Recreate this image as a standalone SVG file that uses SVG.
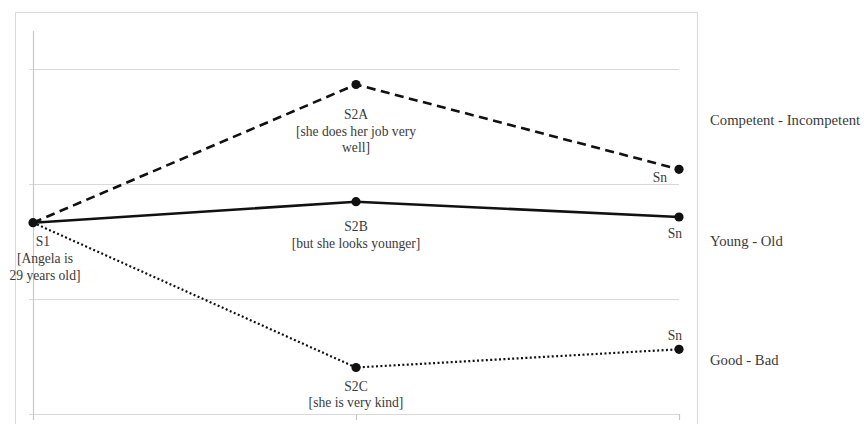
<svg xmlns="http://www.w3.org/2000/svg" width="864" height="424" viewBox="0 0 864 424">
<style>
.frame{fill:none;stroke:#d9d9d9;stroke-width:1}
.grid{stroke:#d9d9d9;stroke-width:1.2;fill:none}
.axis{stroke:#c8c8c8;stroke-width:1.2;fill:none}
.lbl{font-size:13.6px;fill:#3a3a3a;text-anchor:middle}
.sn{font-size:13.6px;fill:#3a3a3a;text-anchor:end}
.leg{font-size:14.7px;fill:#3a3a3a}
.pt{fill:#111}
.ln{fill:none;stroke:#111;stroke-linejoin:round}
.dash{stroke-width:2.6;stroke-dasharray:9 5.5}
.solid{stroke-width:2.6}
.dotted{stroke-width:2.2;stroke-dasharray:2 2.4}
</style>
<rect width="864" height="424" fill="#fff"/>
<g id="chart-frame">
<path class="frame" d="M15.5 430V12.5H697.5V430"/>
<path class="grid" d="M29 69.5H679M29 184.5H679M29 299.5H679M29 414.5H679"/>
<path class="axis" d="M33.5 31V420M356.5 414V420M679.5 414V420"/>
</g>
<g id="connectors">
<path class="ln dash" d="M33 222.7L356 84.5L679 169.3"/>
<path class="ln solid" d="M33 222.7L356 201.7L679 217"/>
<path class="ln dotted" d="M33 222.7L356 367.5L679 349.3"/>
</g>
<g font-family="Liberation Serif, Times New Roman, serif">
<g id="S1">
<circle class="pt" cx="33" cy="222.7" r="4.6"/>
<text class="lbl" x="43" y="246">S1</text>
<text class="lbl" x="45" y="263">[Angela is</text>
<text class="lbl" x="45" y="280">29 years old]</text>
</g>
<g id="S2A">
<circle class="pt" cx="356" cy="84.5" r="4.6"/>
<text class="lbl" x="356" y="119">S2A</text>
<text class="lbl" x="356" y="136">[she does her job very</text>
<text class="lbl" x="356" y="152">well]</text>
</g>
<g id="S2B">
<circle class="pt" cx="356" cy="201.7" r="4.6"/>
<text class="lbl" x="356" y="231">S2B</text>
<text class="lbl" x="356" y="248">[but she looks younger]</text>
</g>
<g id="S2C">
<circle class="pt" cx="356" cy="367.5" r="4.6"/>
<text class="lbl" x="356" y="391">S2C</text>
<text class="lbl" x="356" y="407">[she is very kind]</text>
</g>
<g id="SnA">
<circle class="pt" cx="679" cy="169.3" r="4.6"/>
<text class="sn" x="667" y="182">Sn</text>
</g>
<g id="SnB">
<circle class="pt" cx="679" cy="217" r="4.6"/>
<text class="sn" x="682" y="238">Sn</text>
</g>
<g id="SnC">
<circle class="pt" cx="679" cy="349.3" r="4.6"/>
<text class="sn" x="682" y="340">Sn</text>
</g>
<g id="legend">
<text class="leg" x="710" y="125">Competent - Incompetent</text>
<text class="leg" x="710" y="246">Young - Old</text>
<text class="leg" x="710" y="365">Good - Bad</text>
</g>
</g>
</svg>
